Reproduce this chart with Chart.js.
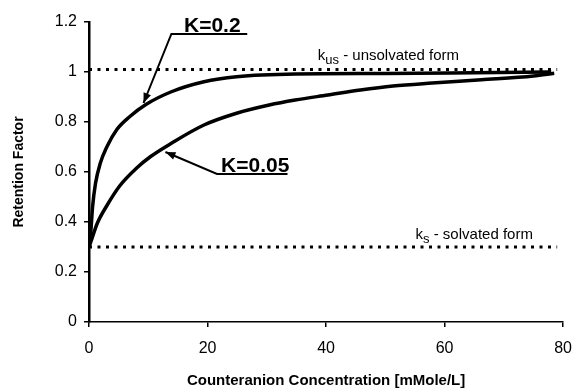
<!DOCTYPE html>
<html>
<head>
<meta charset="utf-8">
<script src="https://cdn.jsdelivr.net/npm/chart.js@4/dist/chart.umd.min.js"></script>
<style>
  html, body { margin: 0; padding: 0; background: #fff; }
  #chart { display: block; }
</style>
</head>
<body>
<canvas id="chart" width="584" height="390"></canvas>
<script>
// data
const concK02 = [0, 0.3, 0.6, 1.1, 1.9, 3, 4.7, 6.9, 9.6, 13.9, 19.4, 24.9, 34.8, 50, 65, 78];
const retK02 = [0.30, 0.36, 0.46, 0.555, 0.635, 0.70, 0.77, 0.822, 0.87, 0.921, 0.961, 0.981, 0.992, 0.994, 0.997, 1.0];

const concK005 = [0, 0.3, 1.4, 3, 5.2, 8, 10.4, 13.9, 19.4, 24.9, 30.4, 34.8, 40.3, 45.8, 51.3, 57.9, 66.2, 75, 78.5];
const retK005 = [0.30, 0.32, 0.395, 0.465, 0.545, 0.615, 0.662, 0.715, 0.788, 0.835, 0.868, 0.888, 0.908, 0.928, 0.944, 0.956, 0.969, 0.984, 0.995];

const kUnsolvated = 1.01;
const kSolvated = 0.30;
const refLineX = [0, 79];

const xTicks = [0, 20, 40, 60, 80];
const yTicks = [0, 0.2, 0.4, 0.6, 0.8, 1, 1.2];

function toPoints(xs, ys) {
  return xs.map(function(x, i) { return { x: x, y: ys[i] }; });
}

const FONT = "'Liberation Sans', Arial, Helvetica, sans-serif";

// labels with leader lines (data coordinates)
const callouts = [
  { text: 'K=0.2', x1: 13.9, x2: 26.7, y: 1.152, tipX: 9.2, tipY: 0.876 },
  { text: 'K=0.05', x1: 21.6, x2: 33.5, y: 0.592, tipX: 12.9, tipY: 0.68 }
];
const refLabels = [
  { k: 'k', sub: 'us', rest: ' - unsolvated form', x: 38.6, y: 1.048 },
  { k: 'k', sub: 's', rest: ' - solvated form', x: 55.1, y: 0.334 }
];

const annotate = {
  id: 'annotate',
  afterDatasetsDraw: function(chart) {
    const c = chart.ctx;
    const xs = chart.scales.x, ys = chart.scales.y;
    c.save();
    c.fillStyle = '#000';
    c.strokeStyle = '#000';

    callouts.forEach(function(a) {
      const px1 = xs.getPixelForValue(a.x1);
      const px2 = xs.getPixelForValue(a.x2);
      const py = ys.getPixelForValue(a.y);
      const tx = xs.getPixelForValue(a.tipX);
      const ty = ys.getPixelForValue(a.tipY);
      c.lineWidth = 2;
      c.beginPath();
      c.moveTo(px2, py);
      c.lineTo(px1, py);
      c.lineTo(tx, ty);
      c.stroke();
      // arrow head
      const ang = Math.atan2(ty - py, tx - px1);
      const len = 10, w = 4;
      c.beginPath();
      c.moveTo(tx, ty);
      c.lineTo(tx - len * Math.cos(ang) + w * Math.sin(ang), ty - len * Math.sin(ang) - w * Math.cos(ang));
      c.lineTo(tx - len * Math.cos(ang) - w * Math.sin(ang), ty - len * Math.sin(ang) + w * Math.cos(ang));
      c.closePath();
      c.fill();
      c.font = 'bold 21px ' + FONT;
      c.textAlign = 'center';
      c.textBaseline = 'alphabetic';
      c.fillText(a.text, (px1 + px2) / 2 + 3, py - 2);
    });

    refLabels.forEach(function(l) {
      let px = xs.getPixelForValue(l.x);
      const py = ys.getPixelForValue(l.y);
      c.textAlign = 'left';
      c.textBaseline = 'alphabetic';
      c.font = '15px ' + FONT;
      c.fillText(l.k, px, py);
      px += c.measureText(l.k).width;
      c.font = '13px ' + FONT;
      c.fillText(l.sub, px, py + 4);
      px += c.measureText(l.sub).width;
      c.font = '15px ' + FONT;
      c.fillText(l.rest, px, py);
    });
    c.restore();
  }
};

const ctx = document.getElementById('chart').getContext('2d');
const chart = new Chart(ctx, {
  type: 'line',
  data: {
    datasets: [
      {
        label: 'kus',
        data: refLineX.map(function(x) { return { x: x, y: kUnsolvated }; }),
        borderColor: '#000',
        borderWidth: 3,
        borderDash: [3, 5.5],
        pointRadius: 0
      },
      {
        label: 'ks',
        data: refLineX.map(function(x) { return { x: x, y: kSolvated }; }),
        borderColor: '#000',
        borderWidth: 3,
        borderDash: [3, 5.5],
        pointRadius: 0
      },
      {
        label: 'K=0.2',
        data: toPoints(concK02, retK02),
        borderColor: '#000',
        borderWidth: 3.5,
        cubicInterpolationMode: 'monotone',
        pointRadius: 0
      },
      {
        label: 'K=0.05',
        data: toPoints(concK005, retK005),
        borderColor: '#000',
        borderWidth: 3.5,
        cubicInterpolationMode: 'monotone',
        pointRadius: 0
      }
    ]
  },
  options: {
    responsive: false,
    animation: false,
    devicePixelRatio: 1,
    layout: { padding: { top: 22, right: 10, left: 0, bottom: 0 } },
    plugins: {
      legend: { display: false },
      tooltip: { enabled: false },
      title: { display: false }
    },
    scales: {
      x: {
        type: 'linear',
        min: 0,
        max: 80,
        afterBuildTicks: function(s) { s.ticks = xTicks.map(function(v) { return { value: v }; }); },
        afterFit: function(s) { s.height = 68; },
        grid: { drawOnChartArea: false, drawTicks: true, tickLength: 5, color: '#000', lineWidth: 1.5 },
        border: { color: '#000', width: 1.5 },
        ticks: { color: '#000', padding: 12, maxRotation: 0, font: { family: FONT, size: 16 } },
        title: {
          display: true,
          text: 'Counteranion Concentration [mMole/L]',
          color: '#000',
          font: { family: FONT, size: 15, weight: 'bold' },
          padding: { top: 0, bottom: 0 }
        }
      },
      y: {
        min: 0,
        max: 1.2,
        afterBuildTicks: function(s) { s.ticks = yTicks.map(function(v) { return { value: v }; }); },
        afterFit: function(s) { s.width = 89; },
        grid: { drawOnChartArea: false, drawTicks: true, tickLength: 5, color: '#000', lineWidth: 1.5 },
        border: { color: '#000', width: 2.5 },
        ticks: {
          color: '#000',
          padding: 7,
          font: { family: FONT, size: 16 },
          callback: function(v) { return String(Math.round(v * 10) / 10); }
        },
        title: {
          display: true,
          text: 'Retention Factor',
          color: '#000',
          font: { family: FONT, size: 14, weight: 'bold' },
          padding: { top: 11, bottom: 0 }
        }
      }
    }
  },
  plugins: [annotate]
});
</script>
</body>
</html>
